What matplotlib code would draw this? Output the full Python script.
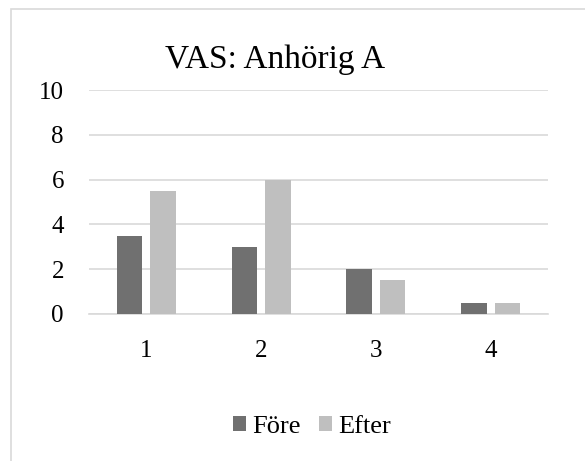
import numpy as np
import matplotlib
matplotlib.use("Agg")
import matplotlib.pyplot as plt
from matplotlib.patches import Rectangle

categories = ["1", "2", "3", "4"]
fore = [3.5, 3, 2, 0.5]
efter = [5.5, 6, 1.5, 0.5]
yticks = [0, 2, 4, 6, 8, 10]

plt.rcParams['font.family'] = ['Liberation Serif', 'DejaVu Serif']

W, H = 585, 461
fig = plt.figure(figsize=(W / 100, H / 100), dpi=100)
fig.patch.set_facecolor('white')

# outer chart frame (runs off the right and bottom edges)
fig.patches.append(Rectangle((11 / W, -0.1), 1.2, 1 - 9 / H + 0.1, transform=fig.transFigure,
                             fill=False, edgecolor='#d9d9d9', linewidth=1.2, zorder=0))

ax = fig.add_axes([89 / W, 1 - 314 / H, (548 - 89) / W, (314 - 90) / H])
x = np.arange(len(categories))
w = 0.222
ax.bar(x - 0.145, fore, width=w, color='#707070', label='Före', zorder=3)
ax.bar(x + 0.145, efter, width=w, color='#bfbfbf', label='Efter', zorder=3)

ax.set_xlim(-0.5, len(categories) - 0.5)
ax.set_ylim(0, 10)
ax.set_yticks(yticks)
ax.set_yticklabels([str(v) for v in yticks], fontsize=18)
ax.set_xticks(x)
ax.set_xticklabels(categories, fontsize=18)
ax.tick_params(axis='both', length=0)
ax.tick_params(axis='y', pad=18)
ax.tick_params(axis='x', pad=19)
ax.grid(axis='y', color='#d9d9d9', linewidth=1.2, zorder=0)
for s in ['top', 'right', 'left']:
    ax.spines[s].set_visible(False)
ax.spines['bottom'].set_color('#d9d9d9')
ax.spines['bottom'].set_linewidth(1.2)

fig.text(275 / W, 1 - 68 / H, 'VAS: Anhörig A', ha='center', va='baseline', fontsize=24)

fig.legend(loc='center', bbox_to_anchor=(312 / W, 1 - 427 / H), ncol=2, frameon=False,
           fontsize=19, handlelength=0.5, handleheight=0.5, handletextpad=0.23,
           columnspacing=0.7)

fig.savefig('out.png', dpi=100)
